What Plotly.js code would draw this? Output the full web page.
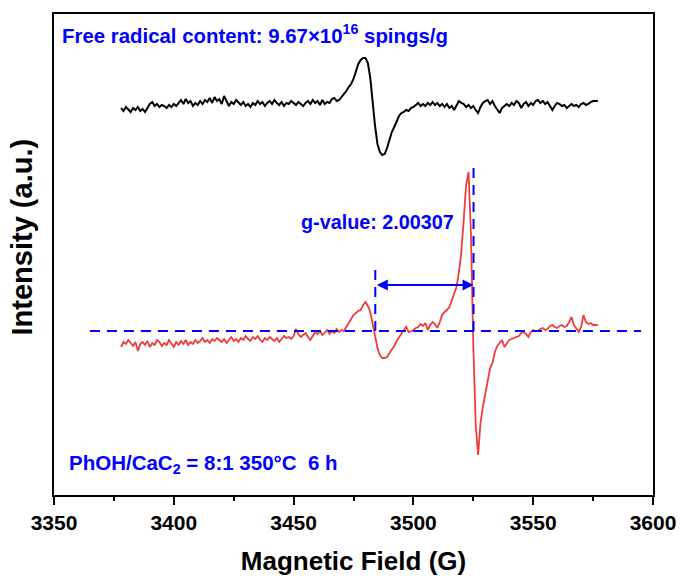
<!DOCTYPE html>
<html><head><meta charset="utf-8">
<script src="https://cdn.plot.ly/plotly-3.0.1.min.js"></script>
<style>html,body{margin:0;padding:0;background:#fff}#chart{width:680px;height:576px}</style>
</head><body><div id="chart"></div>
<script>
// Magnetic field sweep (G): first sample and spacing
const fieldStart = 3378;
const fieldStep = 1;

// Upper spectrum (black), arbitrary intensity units
const blackIntensity = [
392,389,393,390,388,392,390,393,389,391,388,392,
396,398,394,396,393,395,394,392,395,393,
396,394,397,400,396,401,397,399,394,397,
395,399,396,400,398,402,397,403,399,401,
396,404,399,394,398,396,400,397,395,398,
394,396,393,397,395,399,396,398,394,397,
399,396,400,397,395,398,394,397,396,399,
397,395,398,396,394,397,399,396,400,397,
399,395,400,396,398,397,401,402,399,400,
403,405,409,413,416,421,429,436,440,442,
442,437,422,396,374,356,348,345,346,352,
361,368,373,379,384,387,388,390,389,392,
393,395,397,394,396,394,397,395,398,395,
397,394,396,393,396,392,394,390,395,399,
397,396,393,395,392,394,390,387,393,397,
399,400,396,399,394,390,387,392,394,396,
394,397,395,399,397,392,396,398,394,397,
395,399,400,397,399,396,398,394,390,394,
397,396,394,395,392,394,396,394,395,393,
396,397,395,396,398,399,399,399
];

// Lower spectrum (red), arbitrary intensity units
const redIntensity = [
153,158,156,160,157,154,158,149,156,158,155,159,
153,157,155,160,158,154,157,155,160,156,
153,158,155,159,156,160,155,158,156,160,
157,159,162,158,160,157,161,159,162,160,
158,161,157,160,163,159,161,158,162,160,
164,161,159,163,161,164,160,158,162,160,
163,161,159,162,158,161,164,162,163,161,
164,171,166,163,165,167,163,160,164,168,
166,169,165,168,170,166,169,167,171,168,
170,169,173,177,180,185,187,189,190,195,
198,194,188,175,162,152,145,142,142,143,
147,150,154,159,163,167,170,173,168,169,
170,172,173,176,174,177,170,175,178,176,
172,178,185,188,190,193,200,207,213,228,
248,280,315,328,268,155,75,45,77,93,
106,120,132,137,148,154,157,160,153,157,
160,161,162,163,164,167,168,166,163,168,
170,169,169,171,172,170,171,174,175,173,
172,174,175,173,174,178,183,175,172,168,
173,185,178,176,177,175,175,175
];

// Reference marks (blue)
const baselineField = [3365, 3595];
const baselineLevel = 169;
const gFields = [3484.1, 3525.1];
const gLineTops = [235, 337];
const arrowLevel = 215;

const xTickVals = [3350, 3400, 3450, 3500, 3550, 3600];
const xTickText = ['3350', '3400', '3450', '3500', '3550', '3600'];

const labelTop = 'Free radical content: 9.67×10<sup>16</sup> spings/g';
const labelG = 'g-value: 2.00307';
const labelSample = 'PhOH/CaC<sub>2</sub> = 8:1 350°C\u00a0\u00a06 h';
const labelY = 'Intensity (a.u.)';
const labelX = 'Magnetic Field (G)';

const fieldBlack = blackIntensity.map((_, i) => fieldStart + i * fieldStep);
const fieldRed = redIntensity.map((_, i) => fieldStart + i * fieldStep);

const BLUE = '#0000FF';
const FONT = 'Liberation Sans, Arial, sans-serif';

const blueDash = {color: BLUE, width: 2, dash: '10px,7px'};

const traces = [
  {x: fieldBlack, y: blackIntensity, type: 'scatter', mode: 'lines',
   line: {color: '#000000', width: 2}, hoverinfo: 'skip'},
  {x: fieldRed, y: redIntensity, type: 'scatter', mode: 'lines',
   line: {color: '#F03C3C', width: 1.8}, hoverinfo: 'skip'},
  {x: baselineField, y: [baselineLevel, baselineLevel], type: 'scatter', mode: 'lines',
   line: blueDash, hoverinfo: 'skip'},
  {x: [gFields[0], gFields[0]], y: [baselineLevel, gLineTops[0]], type: 'scatter', mode: 'lines',
   line: blueDash, hoverinfo: 'skip'},
  {x: [gFields[1], gFields[1]], y: [baselineLevel, gLineTops[1]], type: 'scatter', mode: 'lines',
   line: blueDash, hoverinfo: 'skip'}
];

const layout = {
  width: 680, height: 576,
  margin: {l: 54, r: 27, t: 14, b: 81},
  paper_bgcolor: '#ffffff', plot_bgcolor: '#ffffff',
  showlegend: false,
  font: {family: FONT, color: '#000000'},
  xaxis: {
    range: [3350, 3600],
    tickvals: xTickVals, ticktext: xTickText.map(t => '<b>' + t + '</b>'),
    ticks: 'outside', ticklen: 8, tickwidth: 2, tickcolor: '#000',
    minor: {dtick: 25, tick0: 3350, ticks: 'outside', ticklen: 4, tickwidth: 2, tickcolor: '#000', showgrid: false},
    showline: true, linewidth: 2, linecolor: '#000', mirror: true,
    showgrid: false, zeroline: false,
    tickfont: {family: FONT, size: 21, color: '#000'},
    title: {text: '<b>' + labelX + '</b>', font: {family: FONT, size: 26, color: '#000'}, standoff: 19}
  },
  yaxis: {
    range: [5, 486],
    showticklabels: false, ticks: '',
    showline: true, linewidth: 2, linecolor: '#000', mirror: true,
    showgrid: false, zeroline: false
  },
  annotations: [
    {x: -0.053, y: 0.536, xref: 'paper', yref: 'paper', xanchor: 'center', yanchor: 'middle',
     showarrow: false, textangle: -90, text: '<b>' + labelY + '</b>',
     font: {family: FONT, size: 29, color: '#000'}},
    {x: gFields[1], y: arrowLevel, ax: gFields[0], ay: arrowLevel,
     xref: 'x', yref: 'y', axref: 'x', ayref: 'y',
     showarrow: true, text: '', arrowside: 'end+start',
     arrowhead: 2, startarrowhead: 2, arrowsize: 1.1, startarrowsize: 1.1,
     arrowwidth: 2, arrowcolor: BLUE, standoff: 0, startstandoff: 0},
    {x: 3352.3, y: 466, xref: 'x', yref: 'y', xanchor: 'left', yanchor: 'middle',
     showarrow: false, text: '<b>' + labelTop + '</b>',
     font: {family: FONT, size: 20.4, color: BLUE}},
    {x: 3485, y: 278, xref: 'x', yref: 'y', xanchor: 'center', yanchor: 'middle',
     showarrow: false, text: '<b>' + labelG + '</b>',
     font: {family: FONT, size: 19.8, color: BLUE}},
    {x: 3355.6, y: 36, xref: 'x', yref: 'y', xanchor: 'left', yanchor: 'middle',
     showarrow: false, text: '<b>' + labelSample + '</b>',
     font: {family: FONT, size: 20.5, color: BLUE}}
  ]
};

Plotly.newPlot('chart', traces, layout, {displayModeBar: false, staticPlot: true});
</script>
</body></html>
